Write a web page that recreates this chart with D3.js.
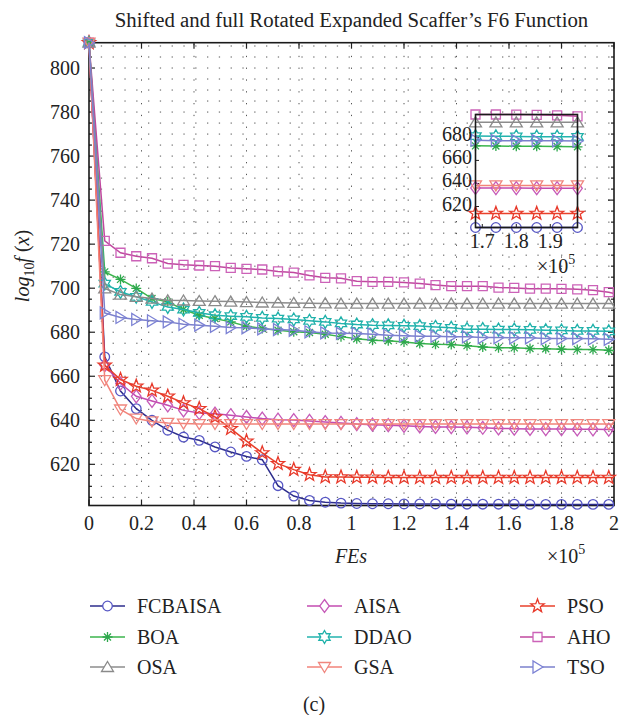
<!DOCTYPE html>
<html><head><meta charset="utf-8">
<script src="https://cdn.jsdelivr.net/npm/d3@7"></script>
<style>
body{margin:0;background:#fff}
svg{display:block}
</style></head><body>
<svg id="chart" width="620" height="715" font-family="'Liberation Serif','Times New Roman',serif"></svg>
<script>
// Function evaluations at which the best value was recorded
const fes = [0, 6000, 12000, 18000, 24000, 30000, 36000, 42000, 48000, 54000,
  60000, 66000, 72000, 78000, 84000, 90000, 96000, 102000, 108000, 114000,
  120000, 126000, 132000, 138000, 144000, 150000, 156000, 162000, 168000, 174000,
  180000, 186000, 192000, 198000, 200000];

const FCBAISA = [811.5, 668.8, 653.3, 645.3, 640.0, 635.5, 632.4, 630.9, 627.9, 625.6,
  623.6, 622.1, 610.3, 605.6, 603.6, 602.8, 602.4, 602.2, 602.1, 602.1,
  602.0, 602.0, 602.0, 601.9, 601.9, 601.9, 601.9, 601.9, 601.8, 601.8,
  601.8, 601.8, 601.8, 601.8, 601.7];
const AISA = [811.5, 665.0, 656.7, 650.9, 648.8, 646.8, 644.5, 643.3, 643.0, 642.3,
  641.5, 640.8, 640.3, 640.1, 639.7, 639.2, 638.8, 638.3, 638.0, 637.8,
  637.5, 637.2, 637.0, 636.9, 636.8, 636.6, 636.3, 636.2, 636.1, 636.0,
  636.0, 635.9, 635.9, 635.8, 635.6];
const PSO = [811.5, 665.0, 658.5, 655.5, 653.6, 650.9, 647.9, 645.3, 641.5, 636.2,
  630.5, 625.2, 620.3, 617.6, 615.3, 614.3, 614.2, 614.1, 614.1, 614.0,
  614.0, 614.0, 614.0, 614.0, 614.0, 614.0, 614.0, 614.0, 614.0, 614.0,
  614.0, 614.0, 614.0, 614.0, 614.0];
const BOA = [811.5, 707.4, 704.0, 699.9, 695.3, 693.8, 690.3, 687.7, 686.2, 684.7,
  682.7, 681.7, 680.9, 680.2, 679.9, 679.1, 678.0, 677.0, 676.4, 676.1,
  675.6, 674.9, 674.5, 674.4, 673.9, 673.3, 673.0, 672.9, 672.6, 672.5,
  672.3, 672.2, 672.1, 671.8, 671.6];
const DDAO = [811.5, 702.1, 698.3, 696.1, 693.8, 691.5, 690.3, 688.8, 687.7, 687.3,
  687.0, 686.5, 686.2, 685.8, 685.2, 684.7, 684.0, 683.5, 683.2, 683.1,
  682.9, 682.8, 682.4, 682.0, 681.4, 681.4, 681.2, 681.2, 681.1, 680.9,
  680.8, 680.6, 680.6, 680.4, 680.3];
const AHO = [811.5, 721.5, 716.1, 714.5, 713.6, 711.2, 710.6, 710.3, 710.0, 709.2,
  708.8, 708.5, 707.6, 707.1, 705.8, 704.7, 704.5, 703.2, 702.9, 702.9,
  702.6, 702.1, 701.4, 700.9, 700.9, 700.9, 700.3, 700.1, 699.8, 699.8,
  699.7, 699.5, 699.1, 698.2, 697.6];
const OSA = [811.5, 699.9, 697.1, 696.1, 695.3, 694.5, 694.4, 694.2, 694.1, 693.9,
  693.7, 693.5, 693.4, 693.3, 693.2, 693.1, 693.0, 693.0, 693.0, 693.0,
  693.0, 693.0, 693.0, 693.0, 693.0, 693.0, 693.0, 693.0, 693.0, 693.0,
  693.0, 693.0, 693.0, 693.0, 692.9];
const GSA = [811.5, 658.2, 644.9, 640.8, 639.5, 638.8, 638.5, 638.3, 638.3, 638.3,
  638.3, 638.3, 638.3, 638.3, 638.3, 638.3, 638.3, 638.3, 638.3, 638.3,
  638.3, 638.3, 638.3, 638.3, 638.3, 638.3, 638.3, 638.3, 638.3, 638.3,
  638.3, 638.3, 638.3, 638.3, 638.2];
const TSO = [811.5, 688.8, 686.7, 685.8, 685.2, 684.7, 683.6, 683.2, 682.7, 682.1,
  682.0, 681.5, 681.2, 680.9, 680.2, 679.7, 679.5, 679.4, 679.1, 678.6,
  678.4, 678.2, 678.2, 677.9, 677.9, 677.6, 677.6, 677.5, 677.5, 677.1,
  677.1, 677.1, 677.0, 676.8, 676.7];

const seriesNames = ["FCBAISA", "AISA", "PSO", "BOA", "DDAO", "AHO", "OSA", "GSA", "TSO"];
const seriesValues = [FCBAISA, AISA, PSO, BOA, DDAO, AHO, OSA, GSA, TSO];

const xTicks = [0, 20000, 40000, 60000, 80000, 100000, 120000, 140000, 160000, 180000, 200000];
const yTicks = [620, 640, 660, 680, 700, 720, 740, 760, 780, 800];
const insetXTicks = [170000, 180000, 190000];
const insetYTicks = [620, 640, 660, 680];

// appearance of each algorithm: line colour, marker colour, marker shape
const style = {
  FCBAISA: {line: "#2d2d8c", mark: "#5656c4", shape: "circle"},
  AISA:    {line: "#c34bb0", mark: "#c65ab8", shape: "diamond"},
  PSO:     {line: "#e9412b", mark: "#e8392a", shape: "pentagram"},
  BOA:     {line: "#3bb54c", mark: "#2ea84d", shape: "asterisk"},
  DDAO:    {line: "#22b3ae", mark: "#1fb1aa", shape: "hexagram"},
  AHO:     {line: "#c0489f", mark: "#cc62b8", shape: "square"},
  OSA:     {line: "#8c8c8c", mark: "#8a8a8a", shape: "triUp"},
  GSA:     {line: "#f2837a", mark: "#f0867e", shape: "triDown"},
  TSO:     {line: "#7b80cc", mark: "#7c82d4", shape: "triRight"}
};

function starPath(n, ro, ri) {
  const pts = [];
  for (let k = 0; k < 2 * n; k++) {
    const a = -Math.PI / 2 + k * Math.PI / n;
    const r = k % 2 === 0 ? ro : ri;
    pts.push([r * Math.cos(a), r * Math.sin(a)]);
  }
  return "M" + pts.map(p => p[0].toFixed(2) + "," + p[1].toFixed(2)).join("L") + "Z";
}
function markerPath(shape) {
  switch (shape) {
    case "circle": return "M4.8,0A4.8,4.8 0 1,1 -4.8,0A4.8,4.8 0 1,1 4.8,0Z";
    case "square": return "M-4.5,-4.5H4.5V4.5H-4.5Z";
    case "diamond": return "M0,-6.5L4.8,0L0,6.5L-4.8,0Z";
    case "triUp": return "M0,-5.5L6,4.5L-6,4.5Z";
    case "triDown": return "M0,5.5L6,-4.5L-6,-4.5Z";
    case "triRight": return "M5.5,0L-4.5,-6L-4.5,6Z";
    case "pentagram": return starPath(5, 7, 2.9);
    case "hexagram": return starPath(6, 6.5, 3.75);
    case "asterisk": return "M0,-5V5M-5,0H5M-3.5,-3.5L3.5,3.5M-3.5,3.5L3.5,-3.5";
  }
}

const svg = d3.select("#chart");
const L = 89, R = 614, T = 42.7, B = 505.5;
const x = d3.scaleLinear().domain([0, 200000]).range([L, R]);
const y = d3.scaleLinear().domain([601.3, 811.5]).range([B, T]);

// dotted grid
const grid = svg.append("g").attr("stroke", "#555").attr("stroke-width", 1)
  .attr("stroke-dasharray", "1.3,10.5");
grid.selectAll("line.h").data(d3.range(605, 811, 5)).join("line")
  .attr("x1", L).attr("x2", R).attr("y1", d => y(d)).attr("y2", d => y(d));
grid.selectAll("line.v").data(xTicks.slice(1, -1)).join("line")
  .attr("y1", B).attr("y2", T).attr("x1", d => x(d)).attr("x2", d => x(d));

// axis box and inward ticks
const ax = svg.append("g").attr("stroke", "#222").attr("stroke-width", 1.2);
ax.selectAll("line.yt").data(d3.range(605, 811, 5)).join("line")
  .attr("y1", d => y(d)).attr("y2", d => y(d))
  .attr("x1", L).attr("x2", d => L + (d % 20 === 0 ? 6 : 3));
ax.selectAll("line.yr").data(d3.range(605, 811, 5)).join("line")
  .attr("y1", d => y(d)).attr("y2", d => y(d))
  .attr("x1", R).attr("x2", d => R - (d % 20 === 0 ? 6 : 3));
ax.selectAll("line.xb").data(xTicks).join("line")
  .attr("x1", d => x(d)).attr("x2", d => x(d)).attr("y1", B).attr("y2", B - 6);
ax.selectAll("line.xt").data(xTicks).join("line")
  .attr("x1", d => x(d)).attr("x2", d => x(d)).attr("y1", T).attr("y2", T + 6);
svg.append("rect").attr("x", L).attr("y", T).attr("width", R - L).attr("height", B - T)
  .attr("fill", "none").attr("stroke", "#1a1a1a").attr("stroke-width", 1.6);

// tick labels
svg.append("g").attr("font-size", 20).attr("fill", "#222").attr("text-anchor", "end")
  .selectAll("text").data(yTicks).join("text")
  .attr("x", 80).attr("y", d => y(d)).attr("dy", "0.35em").text(d => d);
svg.append("g").attr("font-size", 20).attr("fill", "#222").attr("text-anchor", "middle")
  .selectAll("text").data(xTicks).join("text")
  .attr("x", d => x(d)).attr("y", 530).text(d => +(d / 1e5).toFixed(1));

// title and axis labels
svg.append("text").attr("x", (L + R) / 2).attr("y", 27).attr("text-anchor", "middle")
  .attr("font-size", 20.8).attr("fill", "#222")
  .text("Shifted and full Rotated Expanded Scaffer\u2019s F6 Function");
svg.append("text").attr("x", 351).attr("y", 563).attr("text-anchor", "middle")
  .attr("font-size", 20).attr("font-style", "italic").attr("fill", "#222").text("FEs");
function powerLabel(g, px, py, size) {
  const t = g.append("text").attr("x", px).attr("y", py).attr("font-size", size).attr("fill", "#222");
  t.append("tspan").text("\u00d710");
  t.append("tspan").attr("dy", -size * 0.45).attr("font-size", size * 0.7).text("5");
}
powerLabel(svg, 547, 563, 20);

const yl = svg.append("text").attr("transform", "translate(29,266) rotate(-90)")
  .attr("text-anchor", "middle").attr("font-size", 20).attr("fill", "#222");
yl.append("tspan").attr("font-style", "italic").text("log");
yl.append("tspan").attr("dy", 5).attr("font-size", 14).text("10");
yl.append("tspan").attr("dy", -5).attr("font-style", "italic").text("f");
yl.append("tspan").text(" (");
yl.append("tspan").attr("font-style", "italic").text("x");
yl.append("tspan").text(")");

// curves
const line = d3.line();
const markIdx = d3.range(0, fes.length - 1); // every record but the final one carries a marker
seriesNames.forEach((name, si) => {
  const vals = seriesValues[si], st = style[name];
  svg.append("path").attr("fill", "none").attr("stroke", st.line).attr("stroke-width", 1.5)
    .attr("d", line(fes.map((f, i) => [x(f), y(vals[i])])));
  svg.append("g").selectAll("path").data(markIdx).join("path")
    .attr("transform", i => `translate(${x(fes[i])},${y(vals[i])})`)
    .attr("d", markerPath(st.shape)).attr("fill", "none")
    .attr("stroke", st.mark).attr("stroke-width", 1.3);
});

// magnified view of the last records
const wIdx = markIdx.filter(i => fes[i] >= 168000);
const ix = d3.scaleLinear().domain([168000, 198000]).range([475.5, 577.5]);
const iy = d3.scaleLinear()
  .domain(d3.extent(wIdx.flatMap(i => seriesValues.map(v => v[i]))))
  .range([227.5, 114.5]);
svg.append("rect").attr("x", 475.5).attr("y", 114.5).attr("width", 102).attr("height", 113)
  .attr("fill", "#fff").attr("stroke", "none");
const inset = svg.append("g");
inset.selectAll("line.it").data(insetYTicks).join("line")
  .attr("x1", 475.5).attr("x2", 479).attr("y1", d => iy(d)).attr("y2", d => iy(d))
  .attr("stroke", "#222");
inset.selectAll("line.ixt").data(insetXTicks).join("line")
  .attr("x1", d => ix(d)).attr("x2", d => ix(d)).attr("y1", 227.5).attr("y2", 224)
  .attr("stroke", "#222");
seriesNames.forEach((name, si) => {
  const vals = seriesValues[si], st = style[name];
  inset.append("path").attr("fill", "none").attr("stroke", st.line).attr("stroke-width", 1.5)
    .attr("d", line(wIdx.map(i => [ix(fes[i]), iy(vals[i])])));
  inset.append("g").selectAll("path").data(wIdx).join("path")
    .attr("transform", i => `translate(${ix(fes[i])},${iy(vals[i])})`)
    .attr("d", markerPath(st.shape)).attr("fill", "none")
    .attr("stroke", st.mark).attr("stroke-width", 1.3);
});
inset.append("rect").attr("x", 475.5).attr("y", 114.5).attr("width", 102).attr("height", 113)
  .attr("fill", "none").attr("stroke", "#1a1a1a").attr("stroke-width", 1.6);
inset.append("g").attr("font-size", 20).attr("fill", "#222").attr("text-anchor", "end")
  .selectAll("text").data(insetYTicks).join("text")
  .attr("x", 472).attr("y", d => iy(d)).attr("dy", "0.2em").text(d => d);
inset.append("g").attr("font-size", 20).attr("fill", "#222").attr("text-anchor", "middle")
  .selectAll("text").data(insetXTicks).join("text")
  .attr("x", d => ix(d)).attr("y", 248).text(d => +(d / 1e5).toFixed(1));
powerLabel(inset, 537, 273, 20);

// legend, three columns
const legendOrder = ["FCBAISA", "BOA", "OSA", "AISA", "DDAO", "GSA", "PSO", "AHO", "TSO"];
const colX = [90, 307, 520], rowY = [606, 637, 667];
legendOrder.forEach((name, k) => {
  const cx = colX[Math.floor(k / 3)], cy = rowY[k % 3], st = style[name];
  const g = svg.append("g").attr("transform", `translate(${cx},${cy})`);
  g.append("line").attr("x1", 0).attr("x2", 35).attr("stroke", st.line).attr("stroke-width", 1.5);
  g.append("path").attr("transform", "translate(17.5,0)").attr("d", markerPath(st.shape))
    .attr("fill", "#fff").attr("stroke", st.mark).attr("stroke-width", 1.3);
  g.append("text").attr("x", 47).attr("dy", "0.35em").attr("font-size", 20).attr("fill", "#222").text(name);
});
svg.append("text").attr("x", 314).attr("y", 711).attr("text-anchor", "middle")
  .attr("font-size", 20).attr("fill", "#222").text("(c)");
</script>
</body></html>
